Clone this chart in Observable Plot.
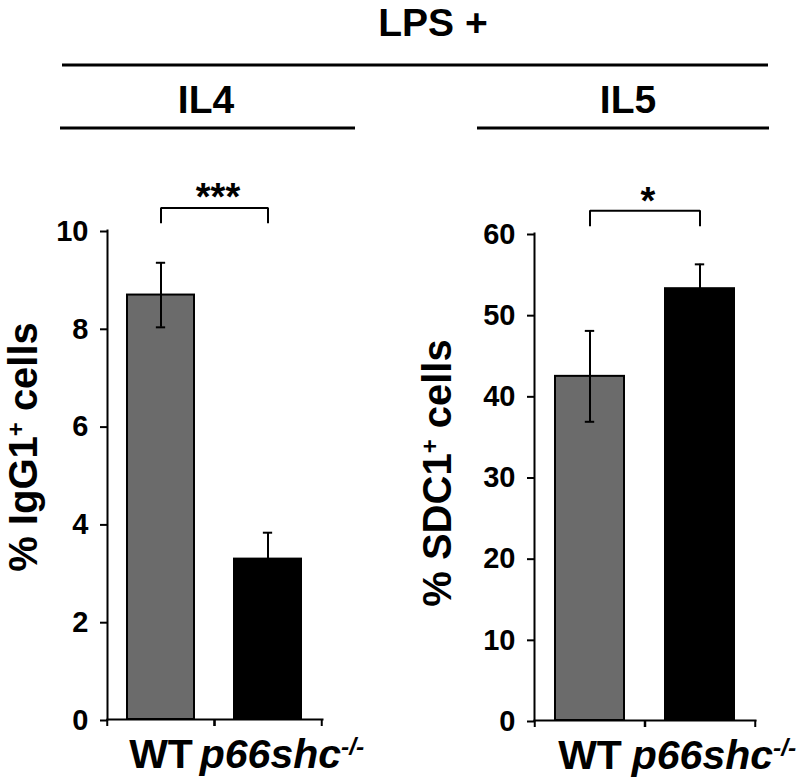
<!DOCTYPE html>
<html>
<head>
<meta charset="utf-8">
<script src="https://cdn.jsdelivr.net/npm/d3@7"></script>
<script src="https://cdn.jsdelivr.net/npm/@observablehq/plot@0.6"></script>
<style>
  body { margin: 0; background: #fff; }
  #page { position: relative; width: 800px; height: 781px; font-family: "Liberation Sans", Arial, sans-serif; }
  #header { position: absolute; left: 0; top: 0; }
  #panels { position: absolute; left: 0; top: 140px; display: flex; }
  #panels svg { display: block; }
  #panels g[aria-label="y-axis tick label"], #panels g[aria-label="y-axis tick label"] text { font-size: 29px; }
  #panels g[aria-label="x-axis tick label"], #panels g[aria-label="x-axis tick label"] text { font-size: 41px; }
</style>
</head>
<body>
<div id="page">
  <svg id="header" width="800" height="140"></svg>
  <div id="panels"></div>
</div>
<script>
// ---------- data ----------
const groups = ["WT", "p66shc"];
const groupSup = "-/-";
const treatment = "LPS +";
const panelTitles = ["IL4", "IL5"];
const barColors = ["#6b6b6b", "#000000"];

const il4Means = [8.68, 3.28];
const il4Errs = [0.66, 0.54];
const il4Ticks = [0, 2, 4, 6, 8, 10];
const il4Label = ["% IgG1", "+", " cells"];
const il4Sig = {label: "***", top: 10.46, leg: 10.14, text: 10.41};

const il5Means = [42.4, 53.2];
const il5Errs = [5.6, 3.0];
const il5Ticks = [0, 10, 20, 30, 40, 50, 60];
const il5Label = ["% SDC1", "+", " cells"];
const il5Sig = {label: "*", top: 62.8, leg: 60.84, text: 62.4};

// ---------- helpers ----------
const FONT = "'Liberation Sans', Arial, Helvetica, sans-serif";
const NS = "http://www.w3.org/2000/svg";

function superscript(svg, full, parts, opts = {}) {
  svg.querySelectorAll("text").forEach(t => {
    if (t.textContent !== full) return;
    while (t.firstChild) t.removeChild(t.firstChild);
    const [base, sup, tail] = parts;
    const a = document.createElementNS(NS, "tspan");
    a.textContent = base; t.appendChild(a);
    const s = document.createElementNS(NS, "tspan");
    s.textContent = sup;
    s.style.fontSize = "0.6em";
    s.setAttribute("baseline-shift", "super");
    t.appendChild(s);
    if (tail) {
      const c = document.createElementNS(NS, "tspan");
      c.textContent = tail; t.appendChild(c);
    }
    if (opts.italic) t.style.fontStyle = "italic";
    if (opts.shift) t.setAttribute("x", opts.shift);
  });
}

function panel({means, errs, ticks, sig, label, marginLeft, marginRight, marginTop, marginBottom, labelDx, labelDy}) {
  const width = 400, height = 641;
  const data = groups.map((g, i) => ({group: g, mean: means[i], lo: means[i] - errs[i], hi: means[i] + errs[i], color: barColors[i]}));
  const inner = width - marginLeft - marginRight;
  const pi = 0.37;
  const step = inner / 2;             // paddingOuter = paddingInner / 2
  const bw = step * (1 - pi);
  const capInset = (bw - 10) / 2;
  const sigData = [{from: groups[0], to: groups[1], top: sig.top, label: sig.label, ty: sig.text}];
  const legs = groups.map(g => ({group: g, y1: sig.leg, y2: sig.top}));
  const fullLabel = label.join("");

  const chart = Plot.plot({
    width, height, marginLeft, marginRight, marginTop, marginBottom,
    style: {fontFamily: FONT, fontWeight: "bold", color: "#000", background: "#fff"},
    x: {domain: groups, paddingInner: pi, paddingOuter: pi / 2, axis: null},
    y: {domain: [ticks[0], ticks[ticks.length - 1]], axis: null},
    color: {type: "identity"},
    marks: [
      Plot.barY(data, {x: "group", y: "mean", fill: "color", stroke: "#000", strokeWidth: 2}),
      Plot.ruleX(data, {x: "group", y1: "lo", y2: "hi", stroke: "#000", strokeWidth: 2}),
      Plot.tickY(data, {x: "group", y: "hi", insetLeft: capInset, insetRight: capInset, stroke: "#000", strokeWidth: 2}),
      Plot.tickY(data, {x: "group", y: "lo", insetLeft: capInset, insetRight: capInset, stroke: "#000", strokeWidth: 2}),
      Plot.frame({anchor: "left", stroke: "#000", strokeWidth: 2}),
      Plot.frame({anchor: "bottom", stroke: "#000", strokeWidth: 2}),
      Plot.axisY({ticks, tickSize: 7, tickPadding: 12, fontSize: 29, strokeWidth: 2, dy: 1, tickFormat: d => String(d), label: null}),
      Plot.axisX({tickSize: 7, strokeWidth: 2, dx: -step / 2, tickFormat: () => "", label: null}),
      Plot.axisX({tickSize: 7, strokeWidth: 2, dx: step / 2, tickFormat: () => "", label: null}),
      Plot.axisX({tickSize: 0, tickPadding: 19, fontSize: 41, label: null}),
      Plot.text([fullLabel], {text: d => d, frameAnchor: "left", rotate: -90, lineAnchor: "bottom", textAnchor: "middle", dx: labelDx, dy: labelDy, fontSize: 40}),
      Plot.link(sigData, {x1: "from", x2: "to", y1: "top", y2: "top", stroke: "#000", strokeWidth: 2}),
      Plot.ruleX(legs, {x: "group", y1: "y1", y2: "y2", stroke: "#000", strokeWidth: 2}),
      Plot.text(sigData, {text: "label", y: "ty", lineAnchor: "bottom", dx: 3, fontSize: 38})
    ]
  });
  superscript(chart, fullLabel, label);
  superscript(chart, groups[1], [groups[1], groupSup, ""], {italic: true, shift: 14});
  return chart;
}

// ---------- header ----------
const hdr = d3.select("#header").attr("font-family", FONT).attr("font-weight", "bold");
hdr.append("text").attr("x", 433).attr("y", 36).attr("text-anchor", "middle").attr("font-size", 39).text(treatment);
hdr.append("line").attr("x1", 62).attr("x2", 768).attr("y1", 65).attr("y2", 65).attr("stroke", "#000").attr("stroke-width", 3);
const titleLayout = [{cx: 206, x1: 60, x2: 355}, {cx: 628, x1: 477, x2: 769}];
panelTitles.forEach((t, i) => {
  const L = titleLayout[i];
  hdr.append("text").attr("x", L.cx).attr("y", 113).attr("text-anchor", "middle").attr("font-size", 39).text(t);
  hdr.append("line").attr("x1", L.x1).attr("x2", L.x2).attr("y1", 128).attr("y2", 128).attr("stroke", "#000").attr("stroke-width", 3);
});

// ---------- panels ----------
const panels = document.getElementById("panels");
panels.appendChild(panel({
  means: il4Means, errs: il4Errs, ticks: il4Ticks, sig: il4Sig, label: il4Label,
  marginLeft: 107, marginRight: 78, marginTop: 90, marginBottom: 62, labelDx: -71, labelDy: -28
}));
panels.appendChild(panel({
  means: il5Means, errs: il5Errs, ticks: il5Ticks, sig: il5Sig, label: il5Label,
  marginLeft: 134, marginRight: 45, marginTop: 93, marginBottom: 61, labelDx: -84, labelDy: -4
}));
</script>
</body>
</html>
